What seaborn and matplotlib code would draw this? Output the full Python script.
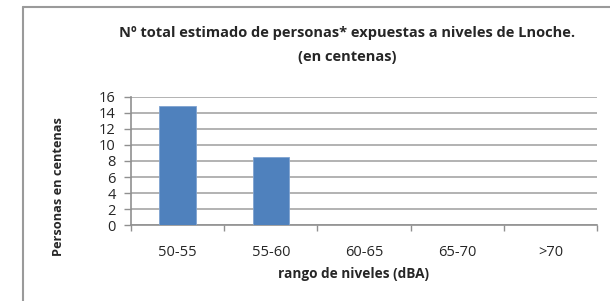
import matplotlib
matplotlib.use("Agg")
import matplotlib.pyplot as plt
import seaborn as sns
import pandas as pd
from matplotlib.lines import Line2D

categories = ["50-55", "55-60", "60-65", "65-70", ">70"]
values = [14.8, 8.5, 0, 0, 0]
yticks = [0, 2, 4, 6, 8, 10, 12, 14, 16]

sns.set_theme(style="white")
plt.rcParams['font.family'] = ['Open Sans', 'DejaVu Sans']

df = pd.DataFrame({"rango": categories, "personas": values})

fig = plt.figure(figsize=(6.10, 3.01), dpi=100)
ax = fig.add_axes([131/610, 1-225.3/301, (597-131)/610, (225.3-96.7)/301])

sns.barplot(data=df, x="rango", y="personas", color="#4F81BD", saturation=1,
            width=0.39, edgecolor="#7FA3D1", linewidth=0.6, ax=ax, zorder=3)

ax.set_xlim(-0.5, 4.5)
ax.set_ylim(0, 16)
ax.set_yticks(yticks)
ax.set_yticklabels([str(t) for t in yticks], fontsize=10.5)
ax.yaxis.grid(True, color="#A6A6A6", linewidth=1.2, zorder=0)
ax.set_axisbelow(True)
for s in ["top", "right"]:
    ax.spines[s].set_visible(False)
ax.spines["left"].set_color("#909090")
ax.spines["bottom"].set_color("#909090")
ax.spines["left"].set_linewidth(1.2)
ax.spines["bottom"].set_linewidth(1.2)
ax.tick_params(axis="y", left=True, length=5, width=1.0, color="#909090", pad=6)
ax.set_xticks(range(len(categories)))
ax.set_xticklabels(categories, fontsize=10.5)
ax.tick_params(axis="x", bottom=False, pad=8)
# category boundary ticks
ax.set_xticks([i - 0.5 for i in range(len(categories) + 1)], minor=True)
ax.tick_params(axis="x", which="minor", bottom=True, length=4, width=1.0, color="#909090")

ax.set_xlabel("rango de niveles (dBA)", fontsize=9.8, fontweight="bold")
ax.xaxis.set_label_coords((354 - 131) / (597 - 131), -(267 - 225.3) / (225.3 - 96.7))
ax.set_ylabel("")
fig.text(59/610, 1-187/301, "Personas en centenas", rotation=90,
         ha="center", va="center", fontsize=9.2, fontweight="bold")

fig.text(347/610, 1-33/301, "Nº total estimado de personas* expuestas a niveles de Lnoche.",
         ha="center", va="center", fontsize=10.5, fontweight="bold")
fig.text(347/610, 1-57/301, "(en centenas)",
         ha="center", va="center", fontsize=10.5, fontweight="bold")

# outer frame
fig.add_artist(Line2D([23/610, 23/610], [0, 1-6.5/301], transform=fig.transFigure,
                      color="#9A9A9A", linewidth=1.5))
fig.add_artist(Line2D([23/610, 1], [1-6.5/301, 1-6.5/301], transform=fig.transFigure,
                      color="#9A9A9A", linewidth=1.5))

fig.savefig("out.png", dpi=100)
